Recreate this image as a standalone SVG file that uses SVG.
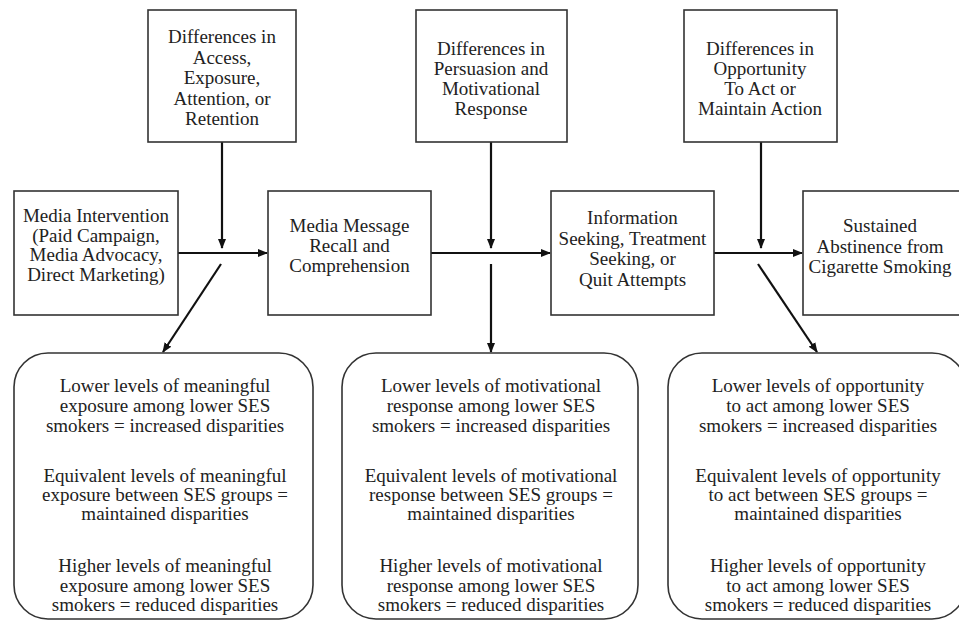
<svg xmlns="http://www.w3.org/2000/svg" width="959" height="621" viewBox="0 0 959 621">
<style>
.box{fill:#fff;stroke:#333;stroke-width:1.6}
.t{font-family:"Liberation Serif","Times New Roman",serif;font-size:19px;fill:#222;text-anchor:middle}
.c{stroke:#111;stroke-width:2.2;fill:none}
</style>
<defs>
<marker id="ah" markerWidth="10" markerHeight="10" refX="9" refY="5" orient="auto" markerUnits="userSpaceOnUse">
<path d="M0,1 L10,5 L0,9 Z" fill="#111"/>
</marker>
</defs>
<rect width="959" height="621" fill="#fff"/>
<g id="connectors">
<line class="c" x1="178" y1="253" x2="267" y2="253" marker-end="url(#ah)"/>
<line class="c" x1="431" y1="253" x2="550" y2="253" marker-end="url(#ah)"/>
<line class="c" x1="714" y1="253" x2="802" y2="253" marker-end="url(#ah)"/>
<line class="c" x1="222" y1="142" x2="222" y2="248" marker-end="url(#ah)"/>
<line class="c" x1="491" y1="142" x2="491" y2="248" marker-end="url(#ah)"/>
<line class="c" x1="761" y1="142" x2="761" y2="248" marker-end="url(#ah)"/>
<line class="c" x1="221" y1="264" x2="163" y2="352" marker-end="url(#ah)"/>
<line class="c" x1="491" y1="264" x2="491" y2="352" marker-end="url(#ah)"/>
<line class="c" x1="758" y1="264" x2="817" y2="352" marker-end="url(#ah)"/>
</g>
<g id="top1">
<rect class="box" x="148" y="10" width="148" height="132"/>
<text class="t" x="222" y="43">Differences in</text>
<text class="t" x="222" y="63.5">Access,</text>
<text class="t" x="222" y="84">Exposure,</text>
<text class="t" x="222" y="104.5">Attention, or</text>
<text class="t" x="222" y="125">Retention</text>
</g>
<g id="top2">
<rect class="box" x="416" y="10" width="151" height="132"/>
<text class="t" x="491" y="55">Differences in</text>
<text class="t" x="491" y="75">Persuasion and</text>
<text class="t" x="491" y="95">Motivational</text>
<text class="t" x="491" y="115">Response</text>
</g>
<g id="top3">
<rect class="box" x="684" y="10" width="153" height="132"/>
<text class="t" x="760" y="55">Differences in</text>
<text class="t" x="760" y="75">Opportunity</text>
<text class="t" x="760" y="95">To Act or</text>
<text class="t" x="760" y="115">Maintain Action</text>
</g>
<g id="media-intervention">
<rect class="box" x="14" y="191" width="164" height="124"/>
<text class="t" x="96" y="222">Media Intervention</text>
<text class="t" x="96" y="241.5">(Paid Campaign,</text>
<text class="t" x="96" y="261">Media Advocacy,</text>
<text class="t" x="96" y="280.5">Direct Marketing)</text>
</g>
<g id="recall">
<rect class="box" x="268" y="191" width="163" height="124"/>
<text class="t" x="349.5" y="232">Media Message</text>
<text class="t" x="349.5" y="252">Recall and</text>
<text class="t" x="349.5" y="272">Comprehension</text>
</g>
<g id="seeking">
<rect class="box" x="551" y="191" width="163" height="124"/>
<text class="t" x="632.5" y="224">Information</text>
<text class="t" x="632.5" y="244.5">Seeking, Treatment</text>
<text class="t" x="632.5" y="265">Seeking, or</text>
<text class="t" x="632.5" y="285.5">Quit Attempts</text>
</g>
<g id="abstinence">
<rect class="box" x="803" y="191" width="160" height="124"/>
<text class="t" x="880" y="232">Sustained</text>
<text class="t" x="880" y="252.5">Abstinence from</text>
<text class="t" x="880" y="273">Cigarette Smoking</text>
</g>
<g id="outcome1">
<rect class="box" x="14" y="353" width="299" height="266" rx="34" ry="34"/>
<text class="t" x="165" y="392">Lower levels of meaningful</text>
<text class="t" x="165" y="412">exposure among lower SES</text>
<text class="t" x="165" y="432">smokers = increased disparities</text>
<text class="t" x="165" y="482">Equivalent levels of meaningful</text>
<text class="t" x="165" y="501">exposure between SES groups =</text>
<text class="t" x="165" y="520">maintained disparities</text>
<text class="t" x="165" y="572">Higher levels of meaningful</text>
<text class="t" x="165" y="591.5">exposure among lower SES</text>
<text class="t" x="165" y="611">smokers = reduced disparities</text>
</g>
<g id="outcome2">
<rect class="box" x="342" y="353" width="296" height="266" rx="34" ry="34"/>
<text class="t" x="491" y="392">Lower levels of motivational</text>
<text class="t" x="491" y="412">response among lower SES</text>
<text class="t" x="491" y="432">smokers = increased disparities</text>
<text class="t" x="491" y="482">Equivalent levels of motivational</text>
<text class="t" x="491" y="501">response between SES groups =</text>
<text class="t" x="491" y="520">maintained disparities</text>
<text class="t" x="491" y="572">Higher levels of motivational</text>
<text class="t" x="491" y="591.5">response among lower SES</text>
<text class="t" x="491" y="611">smokers = reduced disparities</text>
</g>
<g id="outcome3">
<rect class="box" x="668" y="353" width="298" height="266" rx="34" ry="34"/>
<text class="t" x="818" y="392">Lower levels of opportunity</text>
<text class="t" x="818" y="412">to act among lower SES</text>
<text class="t" x="818" y="432">smokers = increased disparities</text>
<text class="t" x="818" y="482">Equivalent levels of opportunity</text>
<text class="t" x="818" y="501">to act between SES groups =</text>
<text class="t" x="818" y="520">maintained disparities</text>
<text class="t" x="818" y="572">Higher levels of opportunity</text>
<text class="t" x="818" y="591.5">to act among lower SES</text>
<text class="t" x="818" y="611">smokers = reduced disparities</text>
</g>
</svg>
